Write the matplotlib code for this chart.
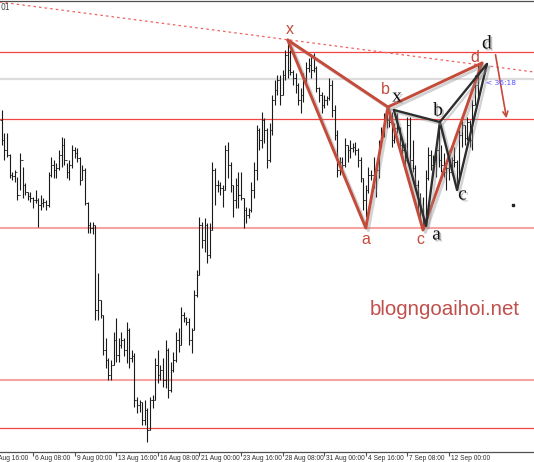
import numpy as np
import matplotlib
matplotlib.use("Agg")
import matplotlib.pyplot as plt
import matplotlib.patheffects as pe

# EURUSD H4, prices kept as pips above BASE
BASE = 1.1

highs_pip = [670, 647, 647, 626, 608, 610, 603, 627, 613, 597,
             588, 588, 583, 590, 582, 585, 582, 580, 608, 623,
             620, 617, 630, 643, 642, 617, 620, 635, 633, 632,
             623, 615, 612, 578, 558, 558, 555, 507, 480, 465,
             442, 422, 420, 448, 462, 442, 448, 442, 458, 452,
             430, 427, 383, 380, 378, 380, 372, 383, 385, 422,
             430, 415, 422, 440, 432, 418, 428, 448, 452, 473,
             468, 463, 462, 452, 490, 510, 563, 558, 562, 557,
             557, 618, 612, 600, 598, 595, 635, 638, 618, 595,
             602, 608, 608, 582, 573, 572, 598, 618, 655, 652,
             668, 662, 652, 657, 685, 700, 705, 705, 710, 730,
             740, 730, 710, 707, 697, 692, 707, 718, 722, 725,
             727, 714, 693, 688, 685, 684, 702, 700, 675, 650,
             623, 623, 642, 635, 640, 637, 638, 632, 623, 602,
             595, 613, 610, 623, 617, 640, 653, 667, 670, 673,
             668, 657, 667, 653, 642, 637, 663, 663, 640, 615,
             600, 587, 583, 610, 633, 630, 625, 633, 660, 635,
             627, 620, 630, 623, 633, 620, 650, 660, 655, 663,
             660, 680, 705, 715]

lows_pip = [635, 620, 623, 602, 600, 598, 580, 590, 582, 585,
            580, 578, 572, 577, 553, 570, 573, 570, 573, 603,
            602, 602, 610, 613, 615, 602, 600, 612, 622, 618,
            595, 600, 575, 547, 547, 546, 460, 460, 462, 425,
            412, 400, 400, 415, 418, 418, 432, 424, 417, 412,
            418, 373, 367, 368, 355, 355, 338, 350, 372, 380,
            397, 400, 393, 392, 382, 388, 408, 418, 428, 435,
            458, 455, 435, 427, 450, 483, 505, 532, 528, 517,
            522, 550, 575, 588, 585, 573, 590, 602, 588, 563,
            572, 572, 580, 552, 557, 562, 568, 582, 600, 630,
            632, 637, 612, 618, 645, 675, 685, 675, 685, 700,
            702, 705, 695, 687, 675, 667, 678, 697, 708, 702,
            708, 688, 678, 667, 672, 675, 680, 663, 640, 603,
            605, 608, 613, 618, 622, 628, 625, 613, 598, 570,
            563, 587, 600, 592, 583, 602, 633, 643, 652, 653,
            633, 637, 647, 630, 623, 613, 618, 610, 608, 590,
            567, 560, 552, 557, 600, 610, 605, 603, 613, 608,
            603, 590, 600, 605, 613, 590, 602, 633, 635, 640,
            633, 630, 675, 680]

closes_pip = [640, 630, 625, 605, 604, 608, 585, 620, 595, 588,
              584, 582, 580, 580, 575, 577, 578, 575, 605, 615,
              610, 612, 625, 635, 620, 608, 615, 630, 627, 622,
              600, 610, 577, 555, 552, 555, 470, 480, 465, 430,
              420, 405, 415, 440, 425, 435, 440, 430, 450, 422,
              424, 380, 375, 378, 360, 370, 350, 380, 380, 415,
              405, 410, 400, 430, 390, 410, 420, 440, 435, 465,
              462, 458, 440, 450, 485, 505, 555, 540, 555, 525,
              550, 610, 595, 595, 592, 590, 630, 615, 595, 580,
              595, 585, 582, 570, 565, 570, 590, 610, 650, 640,
              660, 650, 620, 650, 680, 690, 700, 685, 705, 725,
              710, 708, 702, 695, 680, 685, 702, 712, 715, 710,
              712, 692, 685, 675, 680, 682, 695, 670, 645, 610,
              618, 615, 635, 630, 632, 633, 630, 620, 602, 580,
              590, 605, 605, 600, 610, 635, 648, 662, 660, 658,
              640, 652, 652, 635, 630, 620, 655, 620, 612, 595,
              575, 570, 558, 602, 625, 615, 620, 630, 620, 615,
              608, 612, 608, 620, 618, 600, 645, 655, 642, 658,
              640, 675, 695, 705]
first_open_pip = 660

tick_pos = [-4, 12, 28, 44, 60, 76, 92, 108, 124, 140, 156, 172]
tick_labels = ["2 Aug 16:00", "6 Aug 08:00", "9 Aug 00:00", "13 Aug 16:00",
               "16 Aug 08:00", "21 Aug 00:00", "23 Aug 16:00", "28 Aug 08:00",
               "31 Aug 00:00", "4 Sep 16:00", "7 Sep 08:00", "12 Sep 00:00"]

levels_red = [728, 661, 352]
levels_pink = [552, 400]
levels_gray = [701]
trend_x = [-0.7, 204.7]
trend_pip = [778, 708]

# harmonic patterns: x, a, b, c, d  (bar index, pips)
red_idx = [110, 140, 148.5, 162, 184.7]
red_pip = [740, 552, 673, 550, 717]
black_idx = [150.8, 163.2, 168.5, 175.1, 186.6]
black_pip = [670, 554, 658, 590, 716]
names = ["x", "a", "b", "c", "d"]
red_label_idx = [110.8, 140.1, 147.4, 160.8, 182.0]
red_label_pip = [751, 541, 691, 541, 723]
black_label_idx = [152.0, 167.2, 167.8, 177.2, 186.6]
black_label_pip = [683, 545, 669, 585, 736]

arrow_idx = [189.7, 194.3]
arrow_pip = [728, 659]


def px(v):
    return BASE + np.asarray(v, dtype=float) / 1e4


highs = px(highs_pip)
lows = px(lows_pip)
closes = px(closes_pip)
opens = np.concatenate([[px(first_open_pip)], closes[:-1]])
idx = np.arange(len(highs))

fig = plt.figure(figsize=(5.34, 4.62), dpi=100)
ax = fig.add_axes([0, 10 / 462, 1, 451 / 462])
ax.set_xlim(-0.69, 204.69)
ax.set_ylim(px(328), px(779))

for s in ["left", "right"]:
    ax.spines[s].set_visible(False)
for s in ["top", "bottom"]:
    ax.spines[s].set_color("#505050")
    ax.spines[s].set_linewidth(0.9)
ax.set_yticks([])

# horizontal levels
for v in levels_red:
    ax.axhline(px(v), color="#f04545", lw=0.9, zorder=1)
for v in levels_pink:
    ax.axhline(px(v), color="#f7a3a3", lw=1.5, zorder=1)
for v in levels_gray:
    ax.axhline(px(v), color="#dcdcdc", lw=1.6, zorder=1)
ax.plot(trend_x, px(trend_pip), color="#f06060", lw=0.9,
        dashes=(2, 2.5), zorder=1)

# ohlc bars
bar_col = "#1a1a1a"
ax.vlines(idx, lows, highs, colors=bar_col, lw=0.8, zorder=2)
ax.hlines(opens, idx - 0.5, idx, colors=bar_col, lw=0.6, zorder=2)
ax.hlines(closes, idx, idx + 0.5, colors=bar_col, lw=0.6, zorder=2)

shadow = [pe.SimpleLineShadow(offset=(1.8, -1.8), shadow_color="#909090",
                              alpha=0.4), pe.Normal()]
tshadow = [pe.SimplePatchShadow(offset=(1.3, -1.3), shadow_rgbFace="#808080",
                                alpha=0.5), pe.Normal()]


def draw_pattern(xs, ys, color, lw):
    xs = list(xs)
    ys = list(px(ys))
    ax.plot(xs, ys, color=color, lw=lw, zorder=4, path_effects=shadow,
            solid_capstyle="round")
    ax.plot([xs[0], xs[2], xs[4]], [ys[0], ys[2], ys[4]], color=color,
            lw=lw, zorder=4, path_effects=shadow, solid_capstyle="round")


red = "#c44a3a"
draw_pattern(red_idx, red_pip, red, 2.1)
draw_pattern(black_idx, black_pip, "#2d2d2d", 1.7)

for n, lx, ly in zip(names, red_label_idx, red_label_pip):
    ax.text(lx, px(ly), n, color=red, fontsize=11.5, ha="center",
            va="center", family="Liberation Sans", zorder=5)
for n, lx, ly in zip(names, black_label_idx, black_label_pip):
    ax.text(lx, px(ly), n, color="#111111", fontsize=14, ha="center",
            va="center", family="Liberation Serif", zorder=5,
            path_effects=tshadow)

ax.annotate("", xy=(arrow_idx[1], px(arrow_pip[1])),
            xytext=(arrow_idx[0], px(arrow_pip[0])),
            arrowprops=dict(arrowstyle="->", color=red, lw=1.2,
                            mutation_scale=9), zorder=5)

ax.text(186.2, px(697), "< 36:18", color="#5050ff", fontsize=5.4,
        ha="left", va="center", family="DejaVu Sans", zorder=5)
ax.plot([196.6], [px(575)], marker="s", ms=1.5, color="#222222", zorder=5)

ax.text(141.6, px(465), "blogngoaihoi.net", color="#c0504d", fontsize=14.8,
        ha="left", va="baseline", family="Liberation Sans", zorder=5)

ax.text(0.001, 0.986, "01", transform=ax.transAxes, fontsize=5.5,
        color="#404040", ha="left", va="center", family="DejaVu Sans")

# time axis
ax.set_xticks([t for t in tick_pos if t >= 0])
ax.set_xticklabels([])
ax.tick_params(axis="x", length=3, width=0.8, color="#505050",
               direction="out")
for t, lab in zip(tick_pos, tick_labels):
    ax.text(t + 0.8, -0.007, lab, transform=ax.get_xaxis_transform(),
            fontsize=4.8, color="#303030", ha="left", va="top",
            family="Liberation Sans", clip_on=False)

fig.savefig("out.png", dpi=100)
